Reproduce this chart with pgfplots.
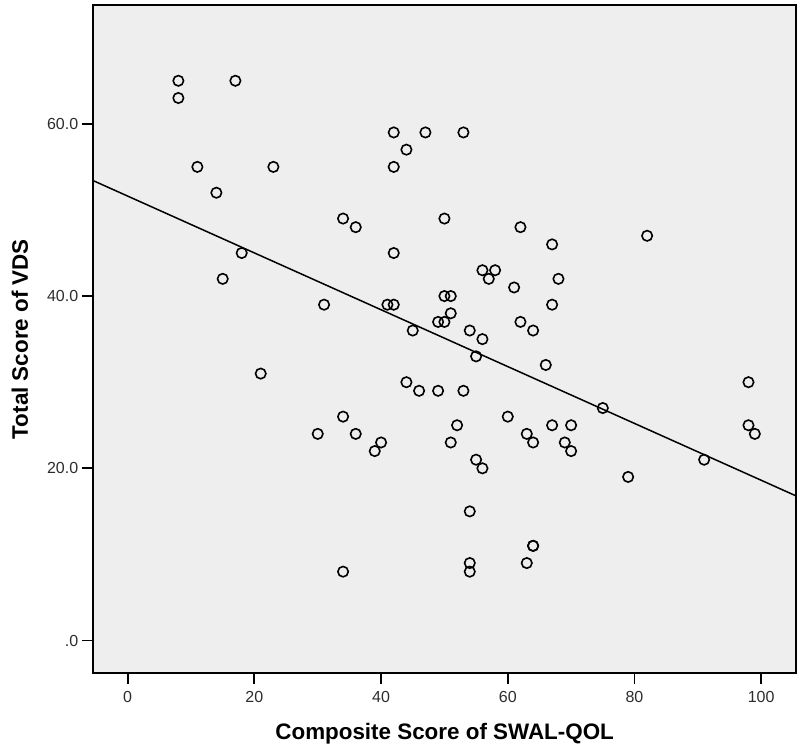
\documentclass[border=0pt]{standalone}
\usepackage{fontspec}
\setmainfont{Liberation Sans}
\usepackage{pgfplots}
\pgfplotsset{compat=1.18}
\definecolor{bg}{RGB}{238,238,238}
\definecolor{ticktxt}{RGB}{45,45,45}
\begin{document}
\begin{tikzpicture}
\begin{axis}[
  at={(0,0)}, anchor=south west,
  scale only axis,
  width=351.35pt, height=334.15pt,
  xmin=-5.43, xmax=105.5, ymin=-3.8, ymax=73.8,
  axis background/.style={fill=bg},
  axis line style={black, line width=0.9pt},
  xtick={0,20,40,60,80,100},
  ytick={0,20,40,60},
  yticklabels={.0,20.0,40.0,60.0},
  tick align=outside,
  xtick pos=bottom, ytick pos=left,
  major tick length=5.5pt,
  tick style={black, line width=0.9pt},
  ticklabel style={font=\fontsize{8}{9}\selectfont, text=ticktxt},
  /pgf/number format/assume math mode=true,
  xticklabel style={yshift=0pt},
  yticklabel style={xshift=1.5pt},
  xlabel={\bfseries Composite Score of SWAL-QOL},
  ylabel={\bfseries Total Score of VDS},
  label style={font=\fontsize{11.2}{13}\selectfont},
  xlabel style={at={(axis description cs:0.5,0)}, anchor=center, yshift=-30pt},
  ylabel style={at={(axis description cs:0,0.5)}, anchor=center, yshift=36.7pt},
  clip=true,
]
\addplot[only marks, mark=o, mark size=2.6pt, mark options={line width=0.8pt, black}] coordinates {
(8,65) (8,63) (17,65) (11,55) (14,52) (23,55) (18,45) (15,42) (21,31) (31,39)
(34,49) (36,48) (42,59) (47,59) (53,59) (44,57) (42,55) (42,45) (41,39) (42,39)
(50,49) (62,48) (82,47) (67,46) (56,43) (58,43) (57,42) (68,42) (61,41) (50,40)
(51,40) (67,39) (51,38) (49,37) (50,37) (62,37) (45,36) (54,36) (64,36) (56,35)
(55,33) (66,32) (44,30) (98,30) (46,29) (49,29) (53,29) (75,27) (60,26) (34,26)
(52,25) (67,25) (70,25) (98,25) (30,24) (36,24) (63,24) (99,24) (40,23) (51,23)
(64,23) (69,23) (39,22) (70,22) (55,21) (91,21) (56,20) (79,19) (54,15) (64,11)
(64,11) (54,9) (63,9) (34,8) (54,8)
};
\addplot[black, line width=0.75pt] coordinates {(-5.43,53.4) (105.5,16.8)};
\end{axis}
\pgfresetboundingbox
\path[use as bounding box] (-46.65pt,-36.85pt) rectangle (353.35pt,336.65pt);
\end{tikzpicture}
\end{document}
